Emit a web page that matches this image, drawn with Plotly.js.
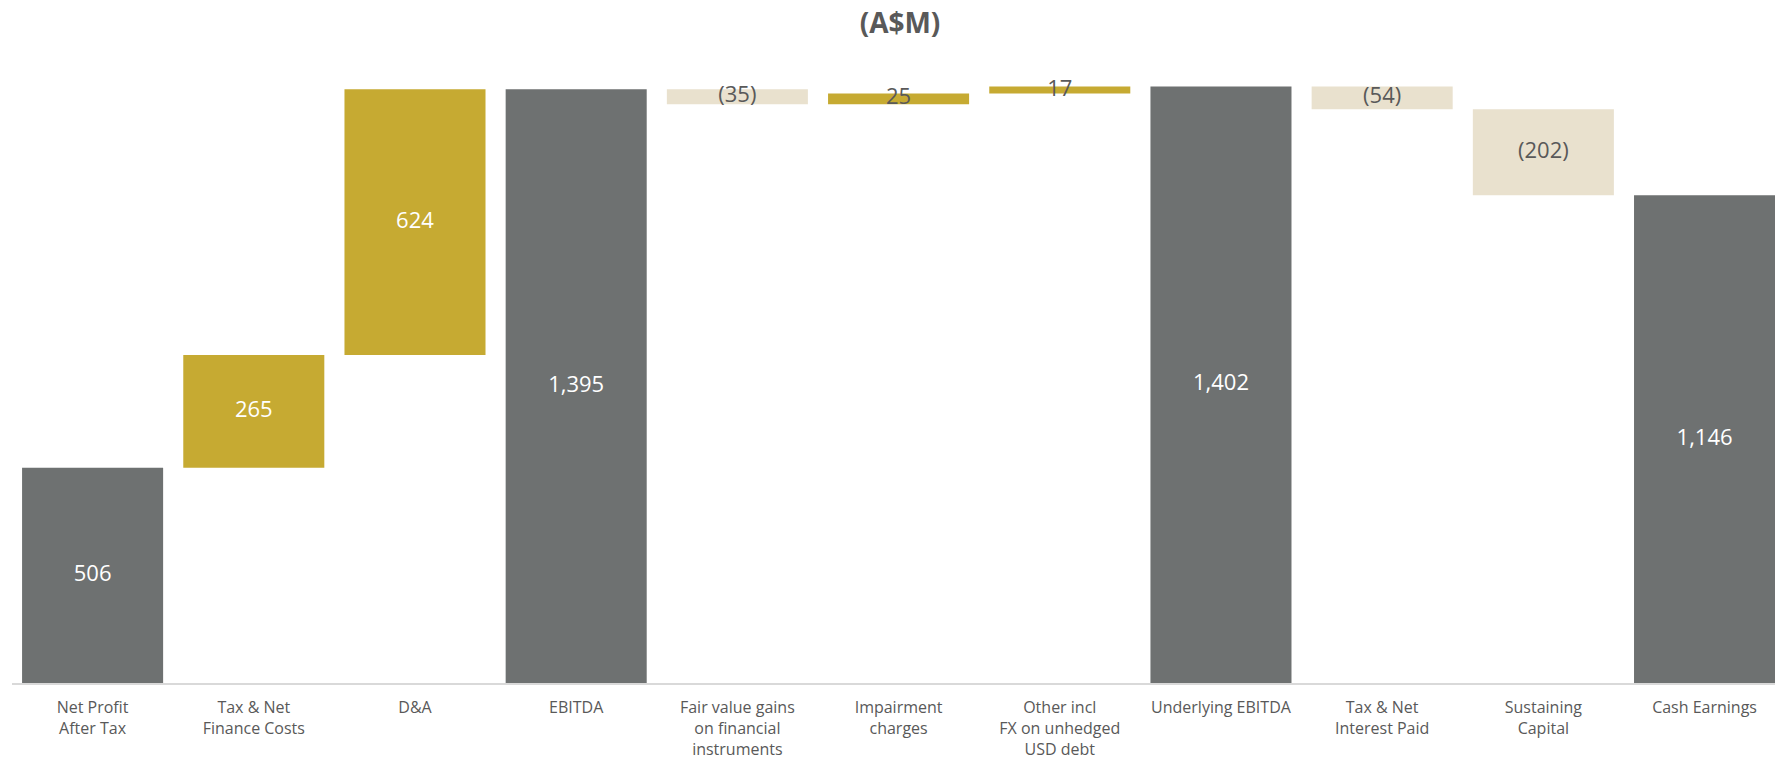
<!DOCTYPE html>
<html>
<head>
<meta charset="utf-8">
<script src="https://cdn.plot.ly/plotly-3.0.1.min.js"></script>
<style>html,body{margin:0;padding:0;background:#fff;}#chart{width:1775px;height:761px;}</style>
</head>
<body>
<div id="chart"></div>
<script>
const categories = ["Net Profit<br>After Tax", "Tax & Net<br>Finance Costs", "D&A", "EBITDA",
  "Fair value gains<br>on financial<br>instruments", "Impairment<br>charges",
  "Other incl<br>FX on unhedged<br>USD debt", "Underlying EBITDA", "Tax & Net<br>Interest Paid",
  "Sustaining<br>Capital", "Cash Earnings"];
const values = [506, 265, 624, 1395, -35, 25, 17, 1402, -54, -202, 1146];
const measures = ["absolute", "relative", "relative", "total", "relative", "relative", "relative", "total", "relative", "relative", "total"];

function fmt(v) {
  const s = Math.abs(v).toLocaleString("en-US");
  return v < 0 ? "(" + s + ")" : s;
}

// compute bar base/top from waterfall logic for label placement
let running = 0;
const mids = [];
const heights = [];
for (let i = 0; i < values.length; i++) {
  let lo, hi;
  if (measures[i] === "relative") {
    lo = Math.min(running, running + values[i]);
    hi = Math.max(running, running + values[i]);
    running += values[i];
  } else {
    lo = 0; hi = values[i]; running = values[i];
  }
  mids.push((lo + hi) / 2);
  heights.push(hi - lo);
}
const textColors = values.map((v, i) => (heights[i] > 150 && v > 0) ? "#ffffff" : "#595959");

const waterfall = {
  type: "waterfall",
  x: categories,
  y: values,
  measure: measures,
  textposition: "none",
  connector: {visible: false},
  increasing: {marker: {color: "#c6aa32"}},
  decreasing: {marker: {color: "#e9e1ce"}},
  totals: {marker: {color: "#6e7171"}},
  hoverinfo: "none",
  cliponaxis: true
};

const labels = {
  type: "scatter",
  mode: "text",
  x: categories,
  y: mids,
  text: values.map(fmt),
  textposition: "middle center",
  textfont: {family: "Open Sans", size: 22, color: textColors},
  hoverinfo: "none",
  showlegend: false,
  cliponaxis: false
};

const layout = {
  width: 1775,
  height: 761,
  paper_bgcolor: "#ffffff",
  plot_bgcolor: "#ffffff",
  showlegend: false,
  margin: {l: 12, r: 0, t: 60, b: 78},
  waterfallgap: 0.125,
  font: {family: "Open Sans", color: "#595959"},
  title: {
    text: "<b>(A$M)</b>",
    font: {family: "Open Sans", size: 28, color: "#595959"},
    x: 900 / 1775, xref: "container", xanchor: "center",
    y: 1 - 23 / 761, yref: "container", yanchor: "middle"
  },
  xaxis: {
    type: "category",
    range: [-0.5, 10.437],
    showgrid: false,
    zeroline: false,
    showline: true,
    linecolor: "#d9d9d9",
    linewidth: 2,
    ticks: "",
    ticklabelstandoff: 9,
    tickfont: {family: "Open Sans", size: 16, color: "#595959"},
    fixedrange: true
  },
  yaxis: {
    range: [0, 1464],
    visible: false,
    showgrid: false,
    zeroline: false,
    fixedrange: true
  }
};

Plotly.newPlot("chart", [waterfall, labels], layout, {displayModeBar: false, staticPlot: true});
</script>
</body>
</html>
